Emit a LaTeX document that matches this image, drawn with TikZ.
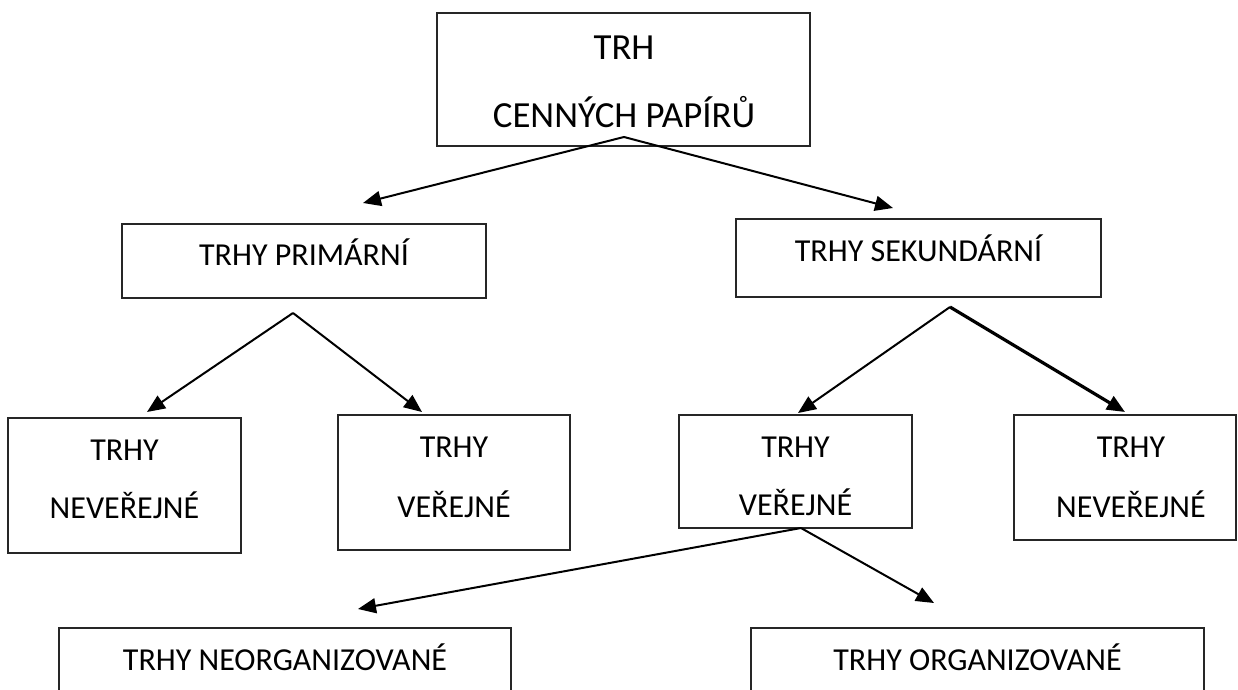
\documentclass[tikz,border=0pt]{standalone}
\usepackage{fontspec}
\setmainfont{Carlito}
\usetikzlibrary{arrows.meta}
\begin{document}
\begin{tikzpicture}[x=0.5pt,y=-0.5pt,
  box/.style={draw=black!85,line width=0.6pt,inner sep=0pt,outer sep=0pt,rectangle},
  lbl/.style={anchor=base,inner sep=0pt,font=\fontsize{16}{19}\selectfont},
  biglbl/.style={anchor=base,inner sep=0pt,font=\fontsize{18.4}{22}\selectfont},
  arr/.style={draw=black,line width=1pt,-{Triangle[length=9pt,width=7.5pt]}},
  thickarr/.style={draw=black,line width=1.6pt,-{Triangle[length=9pt,width=7.5pt]}}]
\useasboundingbox[fill=white] (0,0) rectangle (1238,690);

% boxes
\node[box,minimum width=186.5pt,minimum height=66.5pt] (top) at (623.5,79.5) {};
\node[box,minimum width=182pt,minimum height=37pt] (prim) at (304,261) {};
\node[box,minimum width=182.5pt,minimum height=39pt] (sek) at (918.5,258) {};
\node[box,minimum width=116.5pt,minimum height=67.5pt] (pn) at (124.5,485.5) {};
\node[box,minimum width=116pt,minimum height=67.5pt] (pv) at (454,482.5) {};
\node[box,minimum width=116.5pt,minimum height=56.5pt] (sv) at (795.5,471.5) {};
\node[box,minimum width=111pt,minimum height=62.5pt] (sn) at (1125,477.5) {};
\node[box,minimum width=226pt,minimum height=36pt] (neorg) at (285,664) {};
\node[box,minimum width=226.5pt,minimum height=36pt] (org) at (977.5,664) {};

% texts
\node[biglbl] (t1) at (624,60) {TRH};
\node[biglbl] (t2) at (624,128) {CENNÝCH PAPÍRŮ};
\node[lbl] (tp) at (304,265) {TRHY PRIMÁRNÍ};
\node[lbl] (ts) at (918.5,262) {TRHY SEKUNDÁRNÍ};
\node[lbl] (tpn1) at (124.5,460) {TRHY};
\node[lbl] (tpn2) at (124.5,518) {NEVEŘEJNÉ};
\node[lbl] (tpv1) at (454,457) {TRHY};
\node[lbl] (tpv2) at (454,517) {VEŘEJNÉ};
\node[lbl] (tsv1) at (795.5,457) {TRHY};
\node[lbl] (tsv2) at (795.5,515) {VEŘEJNÉ};
\node[lbl] (tsn1) at (1131,457) {TRHY};
\node[lbl] (tsn2) at (1131,517) {NEVEŘEJNÉ};
\node[lbl] (tneorg) at (285,670) {TRHY NEORGANIZOVANÉ};
\node[lbl] (torg) at (977.5,670) {TRHY ORGANIZOVANÉ};

% connector points
\coordinate (topout) at (624,137);
\coordinate (primin) at (363,203);
\coordinate (sekin) at (893,208);
\coordinate (primout) at (293,313);
\coordinate (pnin) at (147,412);
\coordinate (pvin) at (422,412);
\coordinate (sekout) at (950,307);
\coordinate (svin) at (798,413);
\coordinate (snin) at (1125,412);
\coordinate (svout) at (801,528);
\coordinate (neorgin) at (358,609);
\coordinate (orgin) at (934,603);

\draw[arr] (topout) -- (primin);
\draw[arr] (topout) -- (sekin);
\draw[arr] (primout) -- (pnin);
\draw[arr] (primout) -- (pvin);
\draw[arr] (sekout) -- (svin);
\draw[thickarr] (sekout) -- (snin);
\draw[arr] (svout) -- (neorgin);
\draw[arr] (svout) -- (orgin);
\end{tikzpicture}
\end{document}
